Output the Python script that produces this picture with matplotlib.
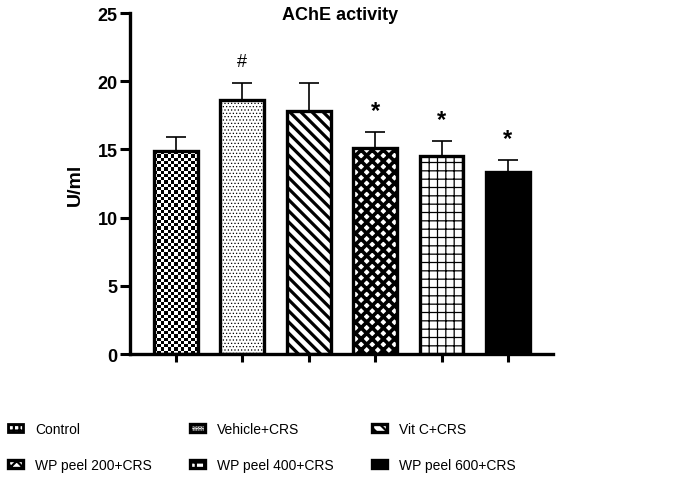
import matplotlib
matplotlib.use("Agg")
import matplotlib.pyplot as plt
import numpy as np
from matplotlib.patches import Rectangle

plt.rcParams['font.family'] = ['Liberation Sans', 'DejaVu Sans']

groups = ["Control", "Vehicle+CRS", "Vit C+CRS",
          "WP peel 200+CRS", "WP peel 400+CRS", "WP peel 600+CRS"]
means = [14.85, 18.6, 17.8, 15.1, 14.5, 13.35]
sems = [1.05, 1.25, 2.05, 1.15, 1.1, 0.85]
marks = ["", "#", "", "*", "*", "*"]

hatches = ["", ".....", "\\\\\\", "xxx", "++", ""]
hatch_lw = [1.0, 0.5, 2.3, 2.6, 0.9, 1.0]
faces = ["none", "white", "white", "white", "white", "black"]

fig = plt.figure(figsize=(6.88, 4.85), dpi=100)
ax = fig.add_axes([0.189, 0.268, 0.615, 0.703])

width = 0.66
x = list(range(len(groups)))
bars = []
for i in x:
    plt.rcParams['hatch.linewidth'] = hatch_lw[i]
    b = ax.bar(i, means[i], width=width, color=faces[i], edgecolor="black",
               linewidth=2.4, hatch=hatches[i], label=groups[i], zorder=2)
    bars.append(b)
    ax.errorbar(i, means[i], yerr=[[0], [sems[i]]], fmt="none", ecolor="black",
                elinewidth=1.2, capsize=7.5, capthick=1.2, zorder=1)
    if marks[i]:
        ax.text(i, means[i] + sems[i] + 1.6, marks[i], ha="center", va="center",
                fontsize=17 if marks[i] == "*" else 13,
                fontweight="bold" if marks[i] == "*" else "normal")

# checkerboard fill for the control bar
cw, ch = 0.05, 0.24
nc = int(round(width / cw))
nr = int(round(means[0] / ch))
board = np.indices((nr, nc)).sum(axis=0) % 2
im = ax.imshow(board, cmap="gray", extent=(-width / 2, width / 2, 0, means[0]),
               aspect="auto", interpolation="nearest", zorder=1.9)
im.set_clip_path(bars[0].patches[0])

ax.set_xlim(-0.69, 5.68)
ax.set_ylim(0, 25)
ax.set_yticks([0, 5, 10, 15, 20, 25])
ax.set_xticks(x)
ax.set_xticklabels([])
ax.tick_params(axis="y", direction="out", length=7, width=2.2, labelsize=13, pad=2)
ax.tick_params(axis="x", direction="out", length=6, width=2.2)
for lbl in ax.get_yticklabels():
    lbl.set_fontweight("bold")
for s in ["top", "right"]:
    ax.spines[s].set_visible(False)
for s in ["left", "bottom"]:
    ax.spines[s].set_linewidth(2.4)

ax.set_ylabel("U/ml", fontsize=14, fontweight="bold", labelpad=10)
fig.text(0.494, 1 - 16 / 485, "AChE activity", ha="center", va="center",
         fontsize=13, fontweight="bold")

plt.rcParams['hatch.linewidth'] = 1.6
ctrl_handle = Rectangle((0, 0), 1, 1, facecolor="white", edgecolor="black",
                        linewidth=2.0, hatch="+++")
handles = [ctrl_handle] + [b.patches[0] for b in bars[1:]]
order = [0, 3, 1, 4, 2, 5]
fig.legend([handles[k] for k in order], [groups[k] for k in order],
           loc="upper left", bbox_to_anchor=(0.003, 0.139),
           ncol=3, frameon=False, fontsize=10, handlelength=1.1, handleheight=0.5,
           handletextpad=0.9, columnspacing=2.7, labelspacing=1.6, borderaxespad=0)

fig.savefig("out.png", dpi=100)
